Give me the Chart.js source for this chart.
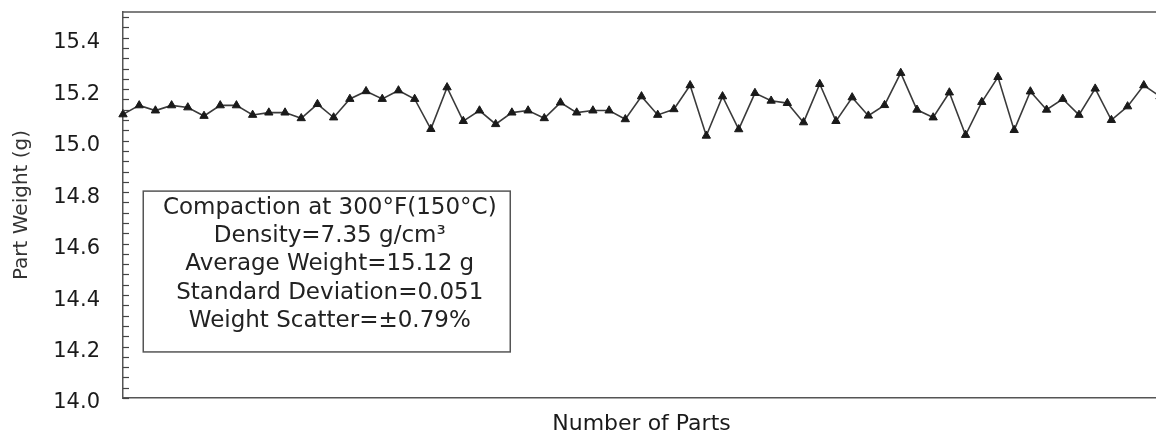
<!DOCTYPE html>
<html><head><meta charset="utf-8">
<script src="https://cdn.jsdelivr.net/npm/chart.js@4"></script>
<style>html,body{margin:0;padding:0;background:#fff;overflow:hidden;width:1156px;height:437px}canvas{display:block}</style>
</head><body>
<canvas id="c" width="1160" height="437"></canvas>
<script>
const partWeights = [
  15.102, 15.137, 15.117, 15.137, 15.129, 15.096, 15.137, 15.137, 15.100, 15.109,
  15.109, 15.087, 15.142, 15.090, 15.162, 15.192, 15.162, 15.195, 15.162, 15.045,
  15.207, 15.076, 15.117, 15.064, 15.109, 15.117, 15.087, 15.148, 15.109, 15.117,
  15.117, 15.083, 15.172, 15.100, 15.122, 15.215, 15.019, 15.172, 15.044, 15.185,
  15.155, 15.146, 15.071, 15.220, 15.076, 15.168, 15.097, 15.138, 15.263, 15.120,
  15.090, 15.187, 15.022, 15.150, 15.247, 15.041, 15.191, 15.120, 15.162, 15.100,
  15.202, 15.080, 15.133, 15.215, 15.172
];
const partNumbers = Array.from({length: partWeights.length}, (_, i) => i + 1);
const yTickValues = [14.0, 14.2, 14.4, 14.6, 14.8, 15.0, 15.2, 15.4];
const yMinorStep = 0.04;
const yRange = [14.0, 15.5];
const xTitle = 'Number of Parts';
const yTitle = 'Part Weight (g)';
const boxLines = [
  'Compaction at 300°F(150°C)',
  'Density=7.35 g/cm³',
  'Average Weight=15.12 g',
  'Standard Deviation=0.051',
  'Weight Scatter=±0.79%'
];

const framePlugin = {
  id: 'frame',
  afterDraw(chart) {
    const {ctx, chartArea: a, scales: {x, y}} = chart;
    ctx.save();
    ctx.strokeStyle = '#555';
    ctx.lineWidth = 1.5;
    ctx.beginPath();
    ctx.moveTo(a.left, a.top);
    ctx.lineTo(a.right, a.top);
    ctx.stroke();
    ctx.lineWidth = 1.2;
    ctx.strokeStyle = '#444';
    const n = Math.round((yRange[1] - yRange[0]) / yMinorStep);
    for (let i = 0; i < n; i++) {
      const v = yRange[0] + i * yMinorStep;
      const py = Math.round(y.getPixelForValue(v)) + 0.5;
      ctx.beginPath();
      ctx.moveTo(a.left, py);
      ctx.lineTo(a.left + 6, py);
      ctx.stroke();
    }
    const bx1 = x.getPixelForValue(1.25), bx2 = x.getPixelForValue(23.9);
    const by1 = y.getPixelForValue(14.804), by2 = y.getPixelForValue(14.179);
    ctx.fillStyle = '#fff';
    ctx.fillRect(bx1, by1, bx2 - bx1, by2 - by1);
    ctx.strokeStyle = '#555';
    ctx.lineWidth = 1.5;
    ctx.strokeRect(bx1, by1, bx2 - bx1, by2 - by1);
    ctx.fillStyle = '#222';
    ctx.font = '23px "DejaVu Sans"';
    ctx.textAlign = 'center';
    ctx.textBaseline = 'middle';
    const cx = (bx1 + bx2) / 2 + 3;
    boxLines.forEach((t, i) => ctx.fillText(t, cx, by1 + 17 + i * 28.2));
    ctx.restore();
  }
};

new Chart(document.getElementById('c'), {
  type: 'line',
  data: {
    labels: partNumbers,
    datasets: [{
      data: partWeights,
      borderColor: '#3a3a3a',
      borderWidth: 1.6,
      pointStyle: 'triangle',
      pointRadius: 4.8,
      pointBackgroundColor: '#1a1a1a',
      pointBorderColor: '#1a1a1a',
      pointBorderWidth: 1,
      tension: 0,
      clip: false
    }]
  },
  options: {
    responsive: false,
    animation: false,
    devicePixelRatio: 1,
    layout: {autoPadding: false, padding: {top: 12, left: 0, right: 0, bottom: 0}},
    plugins: {legend: {display: false}, tooltip: {enabled: false}},
    scales: {
      x: {
        type: 'category',
        offset: false,
        grid: {display: false, drawTicks: false},
        border: {display: true, color: '#555', width: 1.5},
        ticks: {display: false},
        title: {display: true, text: xTitle, color: '#1a1a1a',
          font: {family: 'DejaVu Sans', size: 22}, padding: {top: 0, bottom: 0}},
        afterFit(s) { s.height = 39; s.paddingLeft = 0; s.paddingRight = 0; s.paddingTop = 0; s.paddingBottom = 0; }
      },
      y: {
        type: 'linear',
        min: yRange[0],
        max: yRange[1],
        afterBuildTicks(s) { s.ticks = yTickValues.map(v => ({value: v})); },
        ticks: {
          callback: v => Number(v).toFixed(1),
          font: {family: 'DejaVu Sans', size: 21},
          color: '#1a1a1a',
          padding: 23,
          labelOffset: 5
        },
        grid: {display: false, drawTicks: false},
        border: {display: true, color: '#555', width: 1.5},
        title: {display: true, text: yTitle, color: '#333',
          font: {family: 'DejaVu Sans', size: 20}, padding: {top: 10, bottom: 0}},
        afterFit(s) { s.width = 123; s.paddingTop = 0; s.paddingBottom = 0; s.paddingLeft = 0; s.paddingRight = 0; }
      }
    }
  },
  plugins: [framePlugin]
});
</script>
</body></html>
